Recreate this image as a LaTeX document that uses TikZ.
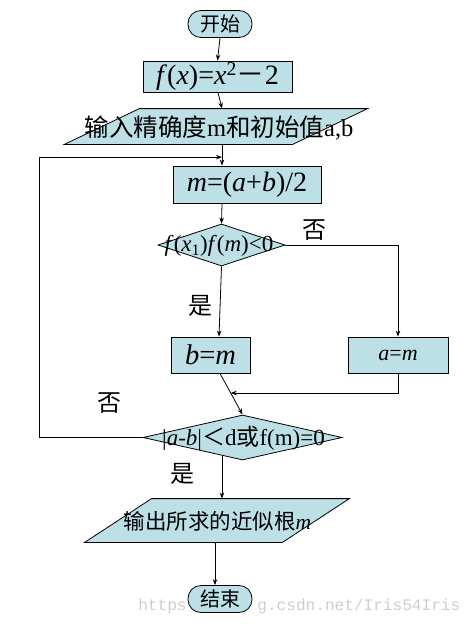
\documentclass[tikz,border=0pt]{standalone}
\usepackage{fontspec}
\setmainfont{Liberation Serif}
\newfontfamily\cjk{Noto Sans CJK SC}
\newfontfamily\wmfont{Liberation Mono}
\usetikzlibrary{shapes.geometric,arrows.meta,calc}
\definecolor{boxfill}{RGB}{188,224,230}
\definecolor{wmgray}{RGB}{205,205,205}
\begin{document}
\begin{tikzpicture}[x=1pt,y=-1pt,
  line width=0.8pt,
  arr/.style={-{Stealth[length=6pt,width=4.5pt]}},
  boxnode/.style={draw, fill=boxfill, rectangle, inner sep=0pt},
  term/.style={draw, fill=boxfill, rounded corners=13pt, inner sep=0pt,
    minimum width=64pt, minimum height=27pt, font=\cjk\fontsize{20}{24}\selectfont},
  dia/.style={draw, fill=boxfill, diamond, inner sep=0pt},
  txt/.style={inner sep=0pt},
  lab/.style={font=\cjk\fontsize{24}{28}\selectfont, inner sep=0pt},
  wm/.style={font=\wmfont\fontsize{16.1}{20}\selectfont, text=wmgray, inner sep=0pt},
]
\useasboundingbox (0,0) rectangle (473,626);

% watermark (the middle part is hidden behind the end node)
\node[wm, anchor=east] (wmA) at (187,606) {https};
\node[wm, anchor=west] (wmB) at (257,606) {g.csdn.net/Iris54Iris};

% start
\node[term] (start) at (220,24) {开始};

% f(x)
\node[boxnode, minimum width=149pt, minimum height=31pt,
  font=\fontsize{28}{32}\selectfont] (fx) at (217.5,76.5)
  {\textit{f}(\textit{x})=\textit{x}\textsuperscript{2}{\cjk －}2};

% input parallelogram
\node[txt, minimum width=227.5pt, minimum height=35pt] (in) at (216,126.5) {};
\filldraw[fill=boxfill] ($(in.south west)+(-37.5,0)$) -- ($(in.north west)+(37.5,0)$)
  -- ($(in.north east)+(37.5,0)$) -- ($(in.south east)+(-37.5,0)$) -- cycle;
\node[txt, font=\fontsize{24.5}{28}\selectfont] (intext) at (219,128)
  {{\cjk 输入精确度}m{\cjk 和初始值}a,b};

% m=(a+b)/2
\node[boxnode, minimum width=148pt, minimum height=37pt,
  font=\fontsize{28}{32}\selectfont] (mbox) at (247,184.5)
  {\textit{m}=(\textit{a}+\textit{b})/2};

% decision 1
\node[dia, minimum width=127pt, minimum height=42pt] (d1) at (221.5,245) {};
\node[txt, font=\fontsize{23}{26}\selectfont] (d1t) at (219,246)
  {\textit{f}(\textit{x}\textsubscript{1})\textit{f}(\textit{m})<0};

% b=m, a=m
\node[boxnode, minimum width=79pt, minimum height=36pt,
  font=\fontsize{28.5}{32}\selectfont] (bm) at (210.5,355) {\textit{b}=\textit{m}};
\node[boxnode, minimum width=100pt, minimum height=36pt,
  font=\fontsize{22}{26}\selectfont] (am) at (398,355) {\textit{a}=\textit{m}};

% decision 2
\node[dia, minimum width=199pt, minimum height=45pt] (d2) at (242.5,437.5) {};
\node[txt, font=\fontsize{23}{26}\selectfont] (d2t) at (243.5,438)
  {|\textit{a-b}|{\cjk ＜}d{\cjk 或}f(m)=0};

% output parallelogram
\node[txt, minimum width=197pt, minimum height=43pt] (out) at (217,520.5) {};
\filldraw[fill=boxfill] ($(out.south west)+(-33.5,0)$) -- ($(out.north west)+(33.5,0)$)
  -- ($(out.north east)+(33.5,0)$) -- ($(out.south east)+(-33.5,0)$) -- cycle;
\node[txt, font=\fontsize{21.5}{25}\selectfont] (outtext) at (217.5,521)
  {{\cjk 输出所求的近似根}\textit{m}};

% end
\node[term] (end) at (220,599) {结束};

% labels
\node[lab] (no1) at (314,230) {否};
\node[lab] (yes1) at (200,306) {是};
\node[lab] (no2) at (109,403) {否};
\node[lab] (yes2) at (182,474) {是};

% connectors
\coordinate (inS) at ([xshift=6pt]in.south);
\coordinate (mN) at ([xshift=-25pt]mbox.north);
\coordinate (merge) at ($(inS)!0.6!(mN)$);
\coordinate (bS) at ([xshift=9.5pt]bm.south);
\coordinate (join) at ($(bS)!0.476!(d2.north)$);
\coordinate (d2exit) at ($(d2.south)!0.206!(d2.west)$);

\draw[arr] (start.south) -- (fx.north);
\draw[arr] ([xshift=0.5pt]fx.south) -- ([xshift=6pt]in.north);
\draw[arr] (inS) -- (mN);
\draw[arr] (d2.west) -- ++(-103,0) |- (merge);
\draw[arr] ([xshift=-25pt]mbox.south) -- (d1.north);
\draw[arr] (d1.east) -| (am.north);
\draw[arr] (d1.south) -- ([xshift=8.5pt]bm.north);
\draw[arr] (bS) -- (d2.north);
\draw[arr] (am.south) |- (join);
\draw[arr] (d2exit) -- (d2exit |- out.north);
\draw[arr] ([xshift=-2pt]out.south) -- ([xshift=-5pt]end.north);
\end{tikzpicture}
\end{document}
